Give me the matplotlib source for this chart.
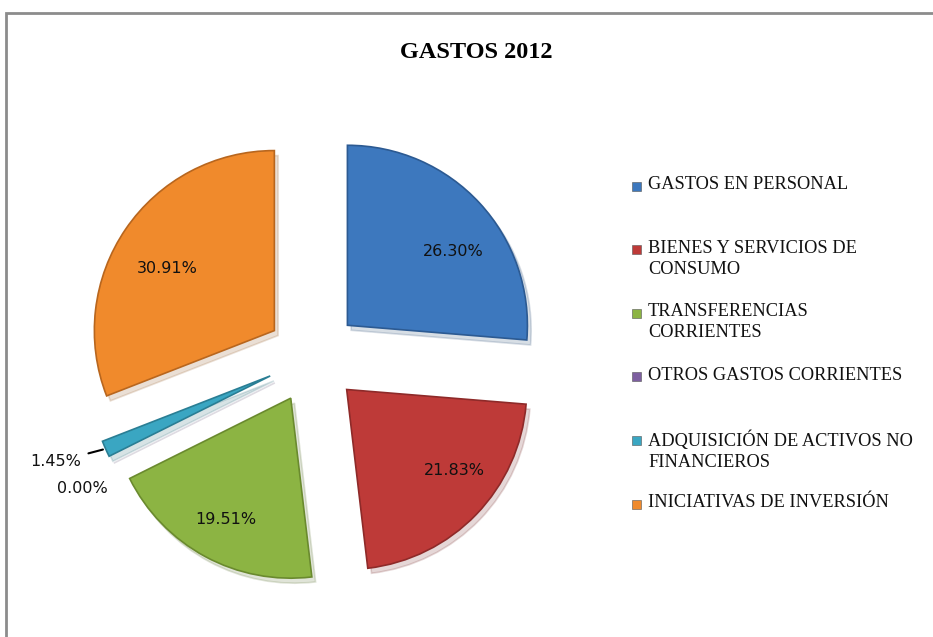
import matplotlib.pyplot as plt
import numpy as np
from matplotlib.patches import Rectangle

# Datos del gráfico
categorias = ['GASTOS EN PERSONAL', 'BIENES Y SERVICIOS DE\nCONSUMO', 'TRANSFERENCIAS\nCORRIENTES',
              'OTROS GASTOS CORRIENTES', 'ADQUISICIÓN DE ACTIVOS NO\nFINANCIEROS', 'INICIATIVAS DE INVERSIÓN']
valores = [26.30, 21.83, 19.51, 0.00, 1.45, 30.91]
colores = ['#3D78BE', '#BE3A38', '#8CB443', '#7D5FA0', '#3AA6C2', '#F08A2C']
bordes = ['#2C5A92', '#8E2A29', '#6A8A2E', '#5C4578', '#2A7E94', '#B8661E']

W, H = 933, 637
fig = plt.figure(figsize=(W / 100, H / 100), dpi=100)
fig.patch.set_facecolor('white')

# ejes centrados en el centro del pie (en pixeles)
cx, cy, half, R = 313, 357, 250, 180
ax = fig.add_axes([(cx - half) / W, (H - cy - half) / H, 2 * half / W, 2 * half / H])
lim = half / R
ax.set_aspect('equal')
ax.axis('off')

wedges, texts, autotexts = ax.pie(
    valores, explode=[0.26] * len(valores), colors=colores, startangle=90, counterclock=False,
    autopct=lambda p: f'{p:.2f}%' if p > 5 else '', pctdistance=0.72, radius=1,
    shadow={'ox': 0.015, 'oy': -0.02, 'shade': 0.4, 'alpha': 0.18},
    wedgeprops=dict(linewidth=1.2), textprops=dict(fontsize=11.5, color='#111111'))
for w, b, v in zip(wedges, bordes, valores):
    w.set_edgecolor(b)
    if v == 0:
        w.set_linewidth(0)
ax.set_xlim(-lim, lim)
ax.set_ylim(-lim, lim)

# pequeño ajuste de las etiquetas internas (como en el original)
ajuste = [(0.06, -0.08), (0.08, 0.05), (-0.02, -0.04), (0, 0), (0, 0), (0.0, -0.06)]
for t, (dx, dy_) in zip(autotexts, ajuste):
    x, y = t.get_position()
    t.set_position((x + dx, y + dy_))

# etiquetas de las porciones pequeñas
offsets = {3: (-28, -30), 4: (-24, -13)}
for i, (w, v) in enumerate(zip(wedges, valores)):
    if v > 5:
        continue
    ang = np.deg2rad((w.theta1 + w.theta2) / 2)
    tip = (w.center[0] + w.r * np.cos(ang), w.center[1] + w.r * np.sin(ang))
    if v > 0:
        ax.annotate(f'{v:.2f}%', xy=tip, xytext=offsets[i], textcoords='offset pixels',
                    ha='right', va='center', fontsize=11.5, color='#111111',
                    arrowprops=dict(arrowstyle='-', color='black', lw=1.5, shrinkA=3, shrinkB=2))
    else:
        ax.annotate(f'{v:.2f}%', xy=tip, xytext=offsets[i], textcoords='offset pixels',
                    ha='center', va='center', fontsize=11.5, color='#111111')

# título
fig.text(476 / W, 1 - 52 / H, 'GASTOS 2012', ha='center', va='center',
         fontsize=17.5, fontweight='bold', family='Liberation Serif')

# leyenda
y0, dy = 186, 63.6
for i, (nombre, c) in enumerate(zip(categorias, colores)):
    y = y0 + i * dy
    fig.add_artist(Rectangle(((632) / W, 1 - (y + 4.5) / H), 9 / W, 9 / H,
                             transform=fig.transFigure, facecolor=c, edgecolor='#555555', lw=0.4))
    fig.text(648 / W, 1 - (y - 10) / H, nombre, ha='left', va='top', fontsize=13.2,
             family='Liberation Serif', color='#111111', linespacing=1.32)

# borde del área del gráfico
fig.add_artist(Rectangle((6 / W, -0.1), 1.2, (H - 13) / H + 0.1, transform=fig.transFigure,
                         fill=False, edgecolor='#8C8C8C', lw=2))

plt.savefig('out.png', dpi=100)
